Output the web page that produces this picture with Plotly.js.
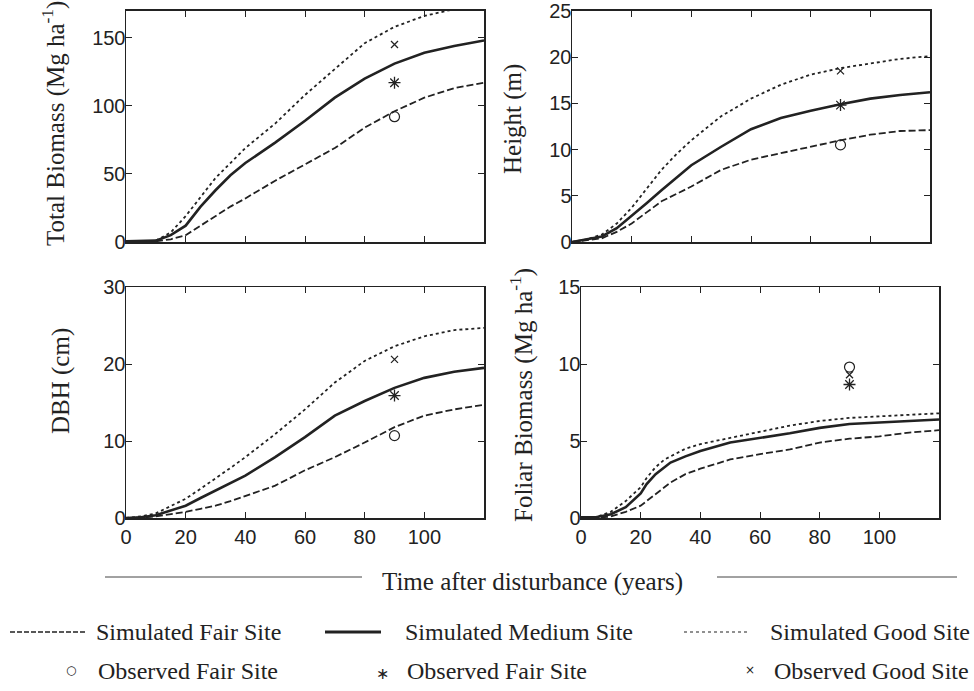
<!DOCTYPE html>
<html>
<head>
<meta charset="utf-8">
<script src="https://cdn.plot.ly/plotly-3.0.1.min.js"></script>
<style>html,body{margin:0;padding:0;background:#fff}</style>
</head>
<body>
<div id="chart" style="width:974px;height:691px"></div>
<script>
// ---- data ----
const years = [0,5,10,15,20,25,30,35,40,50,60,70,80,90,100,110,120];
const yearsFoliar = [0,5,10,15,20,22,25,28,30,35,40,50,60,70,80,90,100,110,120];

const tbFair   = [0,0,0.5,2,5,12,19,26,32,45,57,69,84,96,106,113,117];
const tbMedium = [0.5,0.5,1,5,12,26,38,49,58,73,89,106,120,131,139,144,148];
const tbGood   = [0,0,1,7,19,33,47,58,69,87,108,127,146,158,166,171,175];

const htFair   = [0,0.2,0.4,1.1,2,3.2,4.4,5.2,6,7.8,8.9,9.6,10.3,11,11.6,12,12.1];
const htMedium = [0,0.3,0.6,1.5,2.8,4.2,5.6,7,8.3,10.3,12.2,13.4,14.2,14.9,15.5,15.9,16.2];
const htGood   = [0,0.3,0.8,2,3.7,5.8,7.8,9.5,11,13.6,15.5,17,18.1,18.8,19.3,19.8,20.1];

const dbhFair   = [0,0.05,0.2,0.5,0.8,1.2,1.6,2.2,2.9,4.2,6.2,7.9,9.8,11.8,13.3,14.1,14.7];
const dbhMedium = [0,0.1,0.35,1,1.6,2.6,3.6,4.5,5.5,7.9,10.5,13.3,15.2,16.9,18.2,19,19.5];
const dbhGood   = [0,0.2,0.6,1.5,2.5,3.8,5.1,6.5,7.9,10.9,14.1,17.6,20.4,22.3,23.6,24.4,24.7];

const folFair   = [0,0,0.1,0.4,0.8,1.1,1.6,2.0,2.3,2.85,3.2,3.8,4.15,4.45,4.9,5.15,5.3,5.55,5.7];
const folMedium = [0.05,0.05,0.25,0.7,1.6,2.2,2.85,3.3,3.6,4.0,4.35,4.9,5.2,5.5,5.85,6.1,6.2,6.3,6.4];
const folGood   = [0.05,0.05,0.4,1.1,2.0,2.6,3.3,3.8,4.0,4.5,4.8,5.2,5.6,6.0,6.3,6.5,6.6,6.7,6.8];

const obsYear = [90];
const obsTB  = {fair: 92,   medium: 117,  good: 145};
const obsHt  = {fair: 10.5, medium: 14.8, good: 18.5};
const obsDBH = {fair: 10.7, medium: 15.9, good: 20.6};
const obsFol = {fair: 9.8,  medium: 8.67, good: 9.3};

const xTicks = [0,20,40,60,80,100];

// ---- traces ----
const ink = '#222';
function panelTraces(xs, fair, med, good, obs, xa, ya) {
  return [
    {x: xs, y: fair, xaxis: xa, yaxis: ya, mode: 'lines', line: {color: ink, width: 1.8, dash: '7px,3px'}, showlegend: false, hoverinfo: 'skip'},
    {x: xs, y: med,  xaxis: xa, yaxis: ya, mode: 'lines', line: {color: ink, width: 2.6}, showlegend: false, hoverinfo: 'skip'},
    {x: xs, y: good, xaxis: xa, yaxis: ya, mode: 'lines', line: {color: ink, width: 1.8, dash: 'dot'}, showlegend: false, hoverinfo: 'skip'},
    {x: obsYear, y: [obs.fair], xaxis: xa, yaxis: ya, mode: 'markers', marker: {symbol: 'circle-open', size: 10, color: ink, line: {width: 1.2, color: ink}}, showlegend: false},
    {x: obsYear, y: [obs.medium], xaxis: xa, yaxis: ya, mode: 'markers', marker: {symbol: 'asterisk-open', size: 10, color: ink, line: {width: 1.3, color: ink}}, showlegend: false},
    {x: obsYear, y: [obs.good], xaxis: xa, yaxis: ya, mode: 'markers', marker: {symbol: 'x-thin-open', size: 7, color: ink, line: {width: 1.3, color: ink}}, showlegend: false}
  ];
}

const data = [].concat(
  panelTraces(years, tbFair, tbMedium, tbGood, obsTB, 'x', 'y'),
  panelTraces(years, htFair, htMedium, htGood, obsHt, 'x2', 'y2'),
  panelTraces(years, dbhFair, dbhMedium, dbhGood, obsDBH, 'x3', 'y3'),
  panelTraces(yearsFoliar, folFair, folMedium, folGood, obsFol, 'x4', 'y4')
);

// ---- layout ----
const W = 974, H = 691;
const px = v => v / W;
const py = v => 1 - v / H;
const tickFont = {family: 'Liberation Sans, Arial, sans-serif', size: 20, color: ink};
const serif = 'Liberation Serif, Times New Roman, serif';

function axisBase(extra) {
  return Object.assign({
    showline: true, linecolor: ink, linewidth: 1.5, mirror: 'ticks',
    ticks: 'inside', ticklen: 6, tickwidth: 1, tickcolor: ink,
    showgrid: false, zeroline: false, tickfont: tickFont, fixedrange: true,
    ticklabeloverflow: 'allow'
  }, extra);
}
function xAxis(dom, anchor, labels) {
  return axisBase({domain: dom, anchor: anchor, range: [0, 120], tickvals: xTicks, ticktext: xTicks.map(String), showticklabels: labels});
}
function yAxis(dom, anchor, range, dtick) {
  return axisBase({domain: dom, anchor: anchor, range: range, tick0: 0, dtick: dtick, ticklabelstandoff: -5});
}

const leftX = [px(126), px(484)];
const rightTopX = [px(572), px(930)];
const rightBotX = [px(581), px(939)];
const topY = [py(242), py(10.5)];
const botY = [py(518), py(287)];

function ann(text, x, y, opts) {
  return Object.assign({text: text, x: px(x), y: py(y), xref: 'paper', yref: 'paper', showarrow: false,
    font: {family: serif, size: 24, color: ink}, xanchor: 'left', yanchor: 'middle'}, opts || {});
}
const titleFont = {family: serif, size: 25, color: ink};

const annotations = [
  ann('Total Biomass (Mg ha<sup>-1</sup>)', 54, 124, {textangle: -90, xanchor: 'center', font: titleFont}),
  ann('Height (m)', 513, 119, {textangle: -90, xanchor: 'center', font: titleFont}),
  ann('DBH (cm)', 61, 381, {textangle: -90, xanchor: 'center', font: titleFont}),
  ann('Foliar Biomass (Mg ha<sup>-1</sup>)', 521, 395, {textangle: -90, xanchor: 'center', font: titleFont}),
  ann('Time after disturbance (years)', 532, 582, {xanchor: 'center', font: titleFont}),
  ann('Simulated Fair Site', 94, 632),
  ann('Simulated Medium Site', 403, 632),
  ann('Simulated Good Site', 768, 632),
  ann('Observed Fair Site', 96, 671),
  ann('Observed Fair Site', 405, 671),
  ann('Observed Good Site', 772, 671),
  ann('○', 71, 670, {xanchor: 'center', font: {family: 'DejaVu Sans', size: 12, color: ink}}),
  ann('∗', 382, 673, {xanchor: 'center', font: {family: 'DejaVu Sans', size: 16, color: ink}}),
  ann('×', 750, 670, {xanchor: 'center', font: {family: 'DejaVu Sans', size: 12, color: ink}})
];

function hline(x0, x1, y, line) {
  return {type: 'line', xref: 'paper', yref: 'paper', x0: px(x0), x1: px(x1), y0: py(y), y1: py(y), line: line};
}
const shapes = [
  hline(105, 362, 577, {color: '#444', width: 1}),
  hline(717, 957, 577, {color: '#444', width: 1}),
  hline(10, 85, 632, {color: ink, width: 1.6, dash: '5px,2px'}),
  hline(325, 381, 632, {color: ink, width: 3}),
  hline(684, 747, 632, {color: ink, width: 1.2, dash: 'dot'})
];

const layout = {
  width: W, height: H, autosize: false,
  margin: {l: 0, r: 0, t: 0, b: 0},
  paper_bgcolor: '#fff', plot_bgcolor: '#fff',
  showlegend: false,
  xaxis: xAxis(leftX, 'y', false),
  yaxis: yAxis(topY, 'x', [0, 170], 50),
  xaxis2: xAxis(rightTopX, 'y2', false),
  yaxis2: yAxis(topY, 'x2', [0, 25.03], 5),
  xaxis3: xAxis(leftX, 'y3', true),
  yaxis3: yAxis(botY, 'x3', [0, 30], 10),
  xaxis4: xAxis(rightBotX, 'y4', true),
  yaxis4: yAxis(botY, 'x4', [0, 15], 5),
  annotations: annotations,
  shapes: shapes
};

Plotly.newPlot('chart', data, layout, {displayModeBar: false, staticPlot: true});
</script>
</body>
</html>
